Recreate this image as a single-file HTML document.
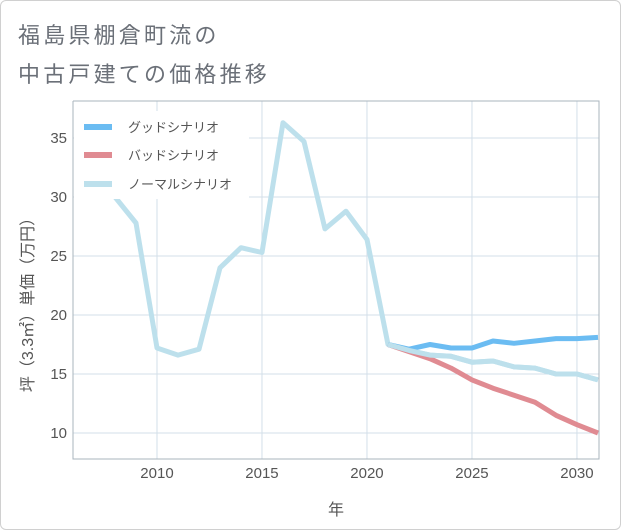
<!DOCTYPE html>
<html><head><meta charset="utf-8"><style>
body{margin:0;background:#fff;font-family:"Liberation Sans","Noto Sans CJK JP",sans-serif;}
#card{position:absolute;left:0;top:0;width:619px;height:528px;border:1px solid #d0d0d0;border-radius:6px;background:#fff;}
.t{position:absolute;left:17px;font-size:22px;letter-spacing:3.2px;color:#6b7078;white-space:nowrap;}
</style></head><body>
<div id="card">
<div class="t" style="top:17px">福島県棚倉町流の</div>
<div class="t" style="top:56px">中古戸建ての価格推移</div>
<svg id="svg" width="621" height="530" style="position:absolute;left:0;top:0"></svg>
</div>
<script>
const years=[2008,2009,2010,2011,2012,2013,2014,2015,2016,2017,2018,2019,2020,2021,2022,2023,2024,2025,2026,2027,2028,2029,2030,2031];
const normal=[30.0,27.8,17.2,16.6,17.1,24.0,25.7,25.3,36.3,34.7,27.3,28.8,26.4,17.5,17.0,16.6,16.5,16.0,16.1,15.6,15.5,15.0,15.0,14.5];
const goodYears=[2021,2022,2023,2024,2025,2026,2027,2028,2029,2030,2031];
const good=[17.5,17.1,17.5,17.2,17.2,17.8,17.6,17.8,18.0,18.0,18.1];
const bad=[17.5,16.9,16.3,15.5,14.5,13.8,13.2,12.6,11.5,10.7,10.0];
const xTicks=[2010,2015,2020,2025,2030];
const yTicks=[10,15,20,25,30,35];
const L=72,R=598,T=100,B=458;
const X=v=>L+(v-2006)*(R-L)/25.05;
const Y=v=>432-(v-10)*11.8;
const NS='http://www.w3.org/2000/svg';
const svg=document.getElementById('svg');
function mk(tag,attrs,parent){const e=document.createElementNS(NS,tag);for(const k in attrs)e.setAttribute(k,attrs[k]);(parent||svg).appendChild(e);return e;}
const clip=mk('clipPath',{id:'pc'});mk('rect',{x:L,y:T,width:R-L,height:B-T},clip);
xTicks.forEach(v=>{
 const g=mk('line',{x1:X(v),x2:X(v),y1:T,y2:B,stroke:'#d3dfe9','stroke-width':1});
 
 
 const t=mk('text',{x:X(v),y:B+19,'text-anchor':'middle','font-size':15,fill:'#555'});t.textContent=v;
 
 
});
yTicks.forEach(v=>{
 const g=mk('line',{x1:L,x2:R,y1:Y(v),y2:Y(v),stroke:'#d3dfe9','stroke-width':1});
 
 
 const t=mk('text',{x:L-6,y:Y(v)+5,'text-anchor':'end','font-size':15,fill:'#555'});t.textContent=v;
 
 
});
const ax=mk('path',{d:`M${L},${T}V${B}H${R}V${T}H${L}`,fill:'none',stroke:'#aab4bd','stroke-width':1});


function line(xs,vs,color,name){
 const d=vs.map((v,i)=>(i?'L':'M')+X(xs[i]).toFixed(1)+','+Y(v).toFixed(1)).join('');
 const p=mk('path',{d:d,fill:'none',stroke:color,'stroke-width':5,'stroke-linejoin':'round','clip-path':'url(#pc)'});
 
 
}
line(years,normal,'#bde0ec','normal-scenario-line');
line(goodYears,bad,'#e08b92','bad-scenario-line');
line(goodYears,good,'#6bbcf2','good-scenario-line');
// redraw normal tail on top of bad (matches reference ordering)
line(years.slice(13),normal.slice(13),'#bde0ec','normal-scenario-line-tail');
const lg=mk('rect',{x:73,y:110,width:175,height:88,fill:'#fff'});


[['グッドシナリオ','#6bbcf2',126],['バッドシナリオ','#e08b92',154],['ノーマルシナリオ','#bde0ec',183]].forEach((e,i)=>{
 const s=mk('line',{x1:83,x2:111,y1:e[2],y2:e[2],stroke:e[1],'stroke-width':6});
 
 
 const t=mk('text',{x:127,y:e[2]+5,'font-size':13,fill:'#555'});t.textContent=e[0];
 
 
});
const xt=mk('text',{x:335,y:514,'text-anchor':'middle','font-size':16,fill:'#555'});xt.textContent='年';


const yt=mk('text',{x:0,y:0,'text-anchor':'middle','font-size':16,fill:'#555',transform:'translate(32,300) rotate(-90)'});yt.textContent='坪（3.3㎡）単価（万円）';


</script>
</body></html>
